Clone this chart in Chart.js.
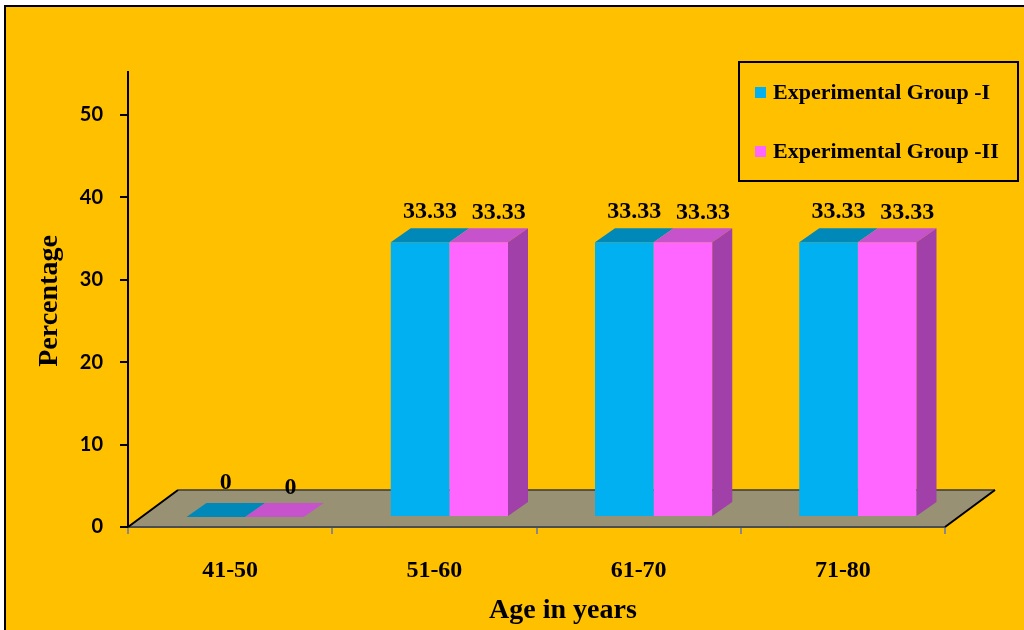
<!DOCTYPE html>
<html><head><meta charset="utf-8">
<script src="https://cdn.jsdelivr.net/npm/chart.js@4.4.0/dist/chart.umd.min.js"></script>
<style>html,body{margin:0;padding:0;background:#fff;overflow:hidden}</style>
</head><body>
<canvas id="c" width="1024" height="630" style="width:1024px;height:630px;display:block"></canvas>
<script>
const categories = ['41-50', '51-60', '61-70', '71-80'];
const groupI = [0, 33.33, 33.33, 33.33];
const groupII = [0, 33.33, 33.33, 33.33];
const seriesNames = ['Experimental Group -I', 'Experimental Group -II'];
const yTicks = [0, 10, 20, 30, 40, 50];
const yTitle = 'Percentage';
const xTitle = 'Age in years';

const SERIF = '"Liberation Serif", "Times New Roman", serif';
const FRONT = ['#00B0F0', '#FF66FF'];
const TOP = ['#0088B8', '#C652CC'];
const SIDE = ['#0077A0', '#A040A8'];
const SHIFT = {x: 15, y: -10};
const BAR_DEPTH = {x: 20, y: -14};
const FLOOR_DEPTH = {x: 50, y: -37};

function poly(ctx, pts, fill) {
  ctx.beginPath();
  ctx.moveTo(pts[0][0], pts[0][1]);
  for (let i = 1; i < pts.length; i++) ctx.lineTo(pts[i][0], pts[i][1]);
  ctx.closePath();
  ctx.fillStyle = fill;
  ctx.fill();
}

const threeD = {
  id: 'threeD',
  beforeDraw(chart) {
    const c = chart.ctx;
    c.save();
    c.fillStyle = '#ffffff';
    c.fillRect(0, 0, chart.width, chart.height);
    c.fillStyle = '#FFC000';
    c.fillRect(5, 6, 1040, 650);
    c.strokeStyle = '#000';
    c.lineWidth = 2;
    c.strokeRect(5, 6, 1040, 650);
    c.restore();
  },
  beforeDatasetsDraw(chart) {
    const c = chart.ctx;
    const a = chart.chartArea;
    const y0 = chart.scales.y.getPixelForValue(0);
    const L = a.left, R = a.right;
    c.save();
    poly(c, [[L, y0], [R, y0], [R + FLOOR_DEPTH.x, y0 + FLOOR_DEPTH.y], [L + FLOOR_DEPTH.x, y0 + FLOOR_DEPTH.y]], '#989174');
    c.lineWidth = 1.5;
    c.strokeStyle = '#3a3a3a';
    c.beginPath();
    c.moveTo(L + FLOOR_DEPTH.x, y0 + FLOOR_DEPTH.y);
    c.lineTo(R + FLOOR_DEPTH.x, y0 + FLOOR_DEPTH.y);
    c.stroke();
    c.strokeStyle = '#4d4d4d';
    c.lineWidth = 2;
    c.beginPath();
    c.moveTo(L, y0); c.lineTo(R, y0);
    c.stroke();
    c.strokeStyle = '#000';
    c.lineWidth = 2;
    c.beginPath();
    c.moveTo(L, y0); c.lineTo(L + FLOOR_DEPTH.x, y0 + FLOOR_DEPTH.y);
    c.moveTo(R, y0); c.lineTo(R + FLOOR_DEPTH.x, y0 + FLOOR_DEPTH.y);
    c.stroke();
    c.restore();
    c.save();
    c.translate(SHIFT.x, SHIFT.y);
  },
  afterDatasetsDraw(chart) {
    const c = chart.ctx;
    const n = chart.data.datasets.length;
    chart.data.datasets.forEach((ds, di) => {
      const meta = chart.getDatasetMeta(di);
      meta.data.forEach((bar) => {
        const p = bar.getProps(['x', 'y', 'base', 'width'], true);
        const x0 = p.x - p.width / 2, x1 = p.x + p.width / 2;
        const yt = p.y, yb = p.base;
        poly(c, [[x0, yt], [x1, yt], [x1 + BAR_DEPTH.x, yt + BAR_DEPTH.y], [x0 + BAR_DEPTH.x, yt + BAR_DEPTH.y]], TOP[di]);
        if (di === n - 1 && yb - yt > 0.5) {
          poly(c, [[x1, yt], [x1 + BAR_DEPTH.x, yt + BAR_DEPTH.y], [x1 + BAR_DEPTH.x, yb + BAR_DEPTH.y], [x1, yb]], SIDE[di]);
        }
      });
    });
    c.restore();
    // value labels
    c.save();
    c.fillStyle = '#000';
    c.font = 'bold 24px ' + SERIF;
    c.textAlign = 'center';
    c.textBaseline = 'bottom';
    chart.data.datasets.forEach((ds, di) => {
      const meta = chart.getDatasetMeta(di);
      meta.data.forEach((bar, i) => {
        const p = bar.getProps(['x', 'y'], true);
        const v = ds.data[i];
        const lx = p.x + SHIFT.x + 10 + di * (v === 0 ? 6 : 10);
        const ly = p.y + SHIFT.y + BAR_DEPTH.y - (v === 0 ? 8 - di * 5 : 4 - di);
        c.fillText(String(v), lx, ly);
      });
    });
    c.restore();
    // legend
    c.save();
    c.strokeStyle = '#000';
    c.lineWidth = 2;
    c.strokeRect(739, 62, 279, 119);
    c.font = 'bold 22px ' + SERIF;
    c.textAlign = 'left';
    c.textBaseline = 'middle';
    chart.data.datasets.forEach((ds, di) => {
      const cy = 93 + di * 59;
      c.fillStyle = ds.backgroundColor;
      c.fillRect(755, cy - 6, 11, 11);
      c.fillStyle = '#000';
      c.fillText(ds.label, 773, cy);
    });
    // axis titles
    c.font = 'bold 28px ' + SERIF;
    c.textAlign = 'center';
    c.textBaseline = 'middle';
    c.fillText(xTitle, 563, 611);
    c.translate(50, 301);
    c.rotate(-Math.PI / 2);
    c.fillText(yTitle, 0, 0);
    c.restore();
  }
};

new Chart(document.getElementById('c'), {
  type: 'bar',
  data: {
    labels: categories,
    datasets: [
      {label: seriesNames[0], data: groupI, backgroundColor: FRONT[0], borderWidth: 0},
      {label: seriesNames[1], data: groupII, backgroundColor: FRONT[1], borderWidth: 0}
    ]
  },
  options: {
    responsive: false,
    animation: false,
    devicePixelRatio: 1,
    layout: {padding: {top: 72, right: 79, left: 0, bottom: 0}},
    datasets: {bar: {categoryPercentage: 0.574, barPercentage: 1.0}},
    plugins: {legend: {display: false}, tooltip: {enabled: false}, title: {display: false}},
    scales: {
      x: {
        afterFit(s) { s.height = 103; },
        border: {display: false},
        grid: {display: true, offset: true, drawOnChartArea: false, tickLength: 7, color: '#888', lineWidth: 2},
        ticks: {color: '#000', font: {family: SERIF, size: 24, weight: 'bold'}, padding: 22}
      },
      y: {
        min: 0, max: 55.2,
        afterFit(s) { s.width = 128; },
        afterBuildTicks(s) { s.ticks = yTicks.map(v => ({value: v})); },
        border: {display: true, color: '#000', width: 2},
        grid: {drawOnChartArea: false, tickLength: 8, color: '#000', lineWidth: 2},
        ticks: {color: '#000', font: {family: 'Lato', size: 20, weight: 'bold'}, padding: 17}
      }
    }
  },
  plugins: [threeD]
});
</script>
</body></html>
